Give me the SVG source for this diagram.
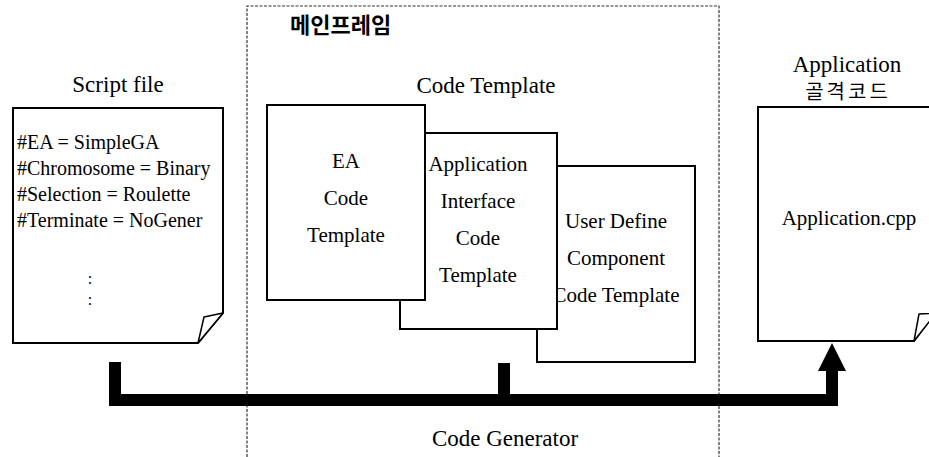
<svg xmlns="http://www.w3.org/2000/svg" width="929" height="457" viewBox="0 0 929 457">
<style>
  .t { font-family: "Liberation Serif", "Times New Roman", serif; fill: #000; }
  .h { font-size: 23px; }
  .b { font-size: 21px; }
  .s { font-size: 20px; }
  .c { font-size: 16px; }
  .k { font-family: "Noto Sans CJK KR", "Noto Sans CJK SC", sans-serif; fill: #000; }
  .box { fill: #fff; stroke: #000; stroke-width: 2; }
  .frame { fill: none; stroke: #333; stroke-width: 1.2; stroke-dasharray: 3 1.5; }
  .bar { fill: none; stroke: #000; stroke-width: 12; stroke-linejoin: miter; }
</style>
<defs>
  <marker id="arrow" markerUnits="userSpaceOnUse" viewBox="0 0 28 28" refX="1" refY="14" markerWidth="28" markerHeight="28" orient="auto">
    <path d="M0,0 L28,14 L0,28 Z" fill="#000"/>
  </marker>
</defs>
<rect width="929" height="457" fill="#fff"/>

<g id="mainframe">
  <path class="frame" d="M247,457 V6 H719 V457"/>
  <text class="k" x="290" y="33" font-size="22" font-weight="bold">메인프레임</text>
  <text class="t h" x="486" y="93" text-anchor="middle">Code Template</text>
  <text class="t h" x="505" y="446" text-anchor="middle">Code Generator</text>
</g>

<g id="script-file">
  <text class="t h" x="118" y="92" text-anchor="middle">Script file</text>
  <path class="box" d="M13,108 H223 V313 L198,343 H13 Z"/>
  <path d="M223,313 L204,317 L198,343 Z" fill="#fff" stroke="#000" stroke-width="1.5" stroke-linejoin="round"/>
  <text class="t s" x="17" y="149">#EA = SimpleGA</text>
  <text class="t s" x="17" y="175">#Chromosome = Binary</text>
  <text class="t s" x="17" y="201">#Selection = Roulette</text>
  <text class="t s" x="17" y="227">#Terminate = NoGener</text>
  <text class="t c" x="90" y="284" text-anchor="middle">:</text>
  <text class="t c" x="90" y="305" text-anchor="middle">:</text>
</g>

<g id="user-define-template">
  <rect class="box" x="537" y="166" width="158" height="196"/>
  <text class="t b" x="616" y="228" text-anchor="middle">User Define</text>
  <text class="t b" x="616" y="265" text-anchor="middle">Component</text>
  <text class="t b" x="616" y="302" text-anchor="middle">Code Template</text>
</g>

<g id="app-interface-template">
  <rect class="box" x="400" y="133" width="157" height="196"/>
  <text class="t b" x="478" y="171" text-anchor="middle">Application</text>
  <text class="t b" x="478" y="208" text-anchor="middle">Interface</text>
  <text class="t b" x="478" y="245" text-anchor="middle">Code</text>
  <text class="t b" x="478" y="282" text-anchor="middle">Template</text>
</g>

<g id="ea-template">
  <rect class="box" x="267" y="105" width="158" height="195"/>
  <text class="t b" x="346" y="168" text-anchor="middle">EA</text>
  <text class="t b" x="346" y="205" text-anchor="middle">Code</text>
  <text class="t b" x="346" y="242" text-anchor="middle">Template</text>
</g>

<g id="application-file">
  <text class="t h" x="847" y="72" text-anchor="middle">Application</text>
  <text class="k" x="848" y="99" font-size="20" letter-spacing="3" text-anchor="middle">골격코드</text>
  <path class="box" d="M938,107 H758 V341 H914 L938,309"/>
  <path d="M914,341 L919,314 L936,313 Z" fill="#fff" stroke="#000" stroke-width="1.5" stroke-linejoin="round"/>
  <text class="t b" x="849" y="225" text-anchor="middle">Application.cpp</text>
</g>

<g id="connectors">
  <path class="bar" d="M115,362 V400 H832 V370" marker-end="url(#arrow)"/>
  <line class="bar" x1="504" y1="363" x2="504" y2="400"/>
</g>
</svg>
